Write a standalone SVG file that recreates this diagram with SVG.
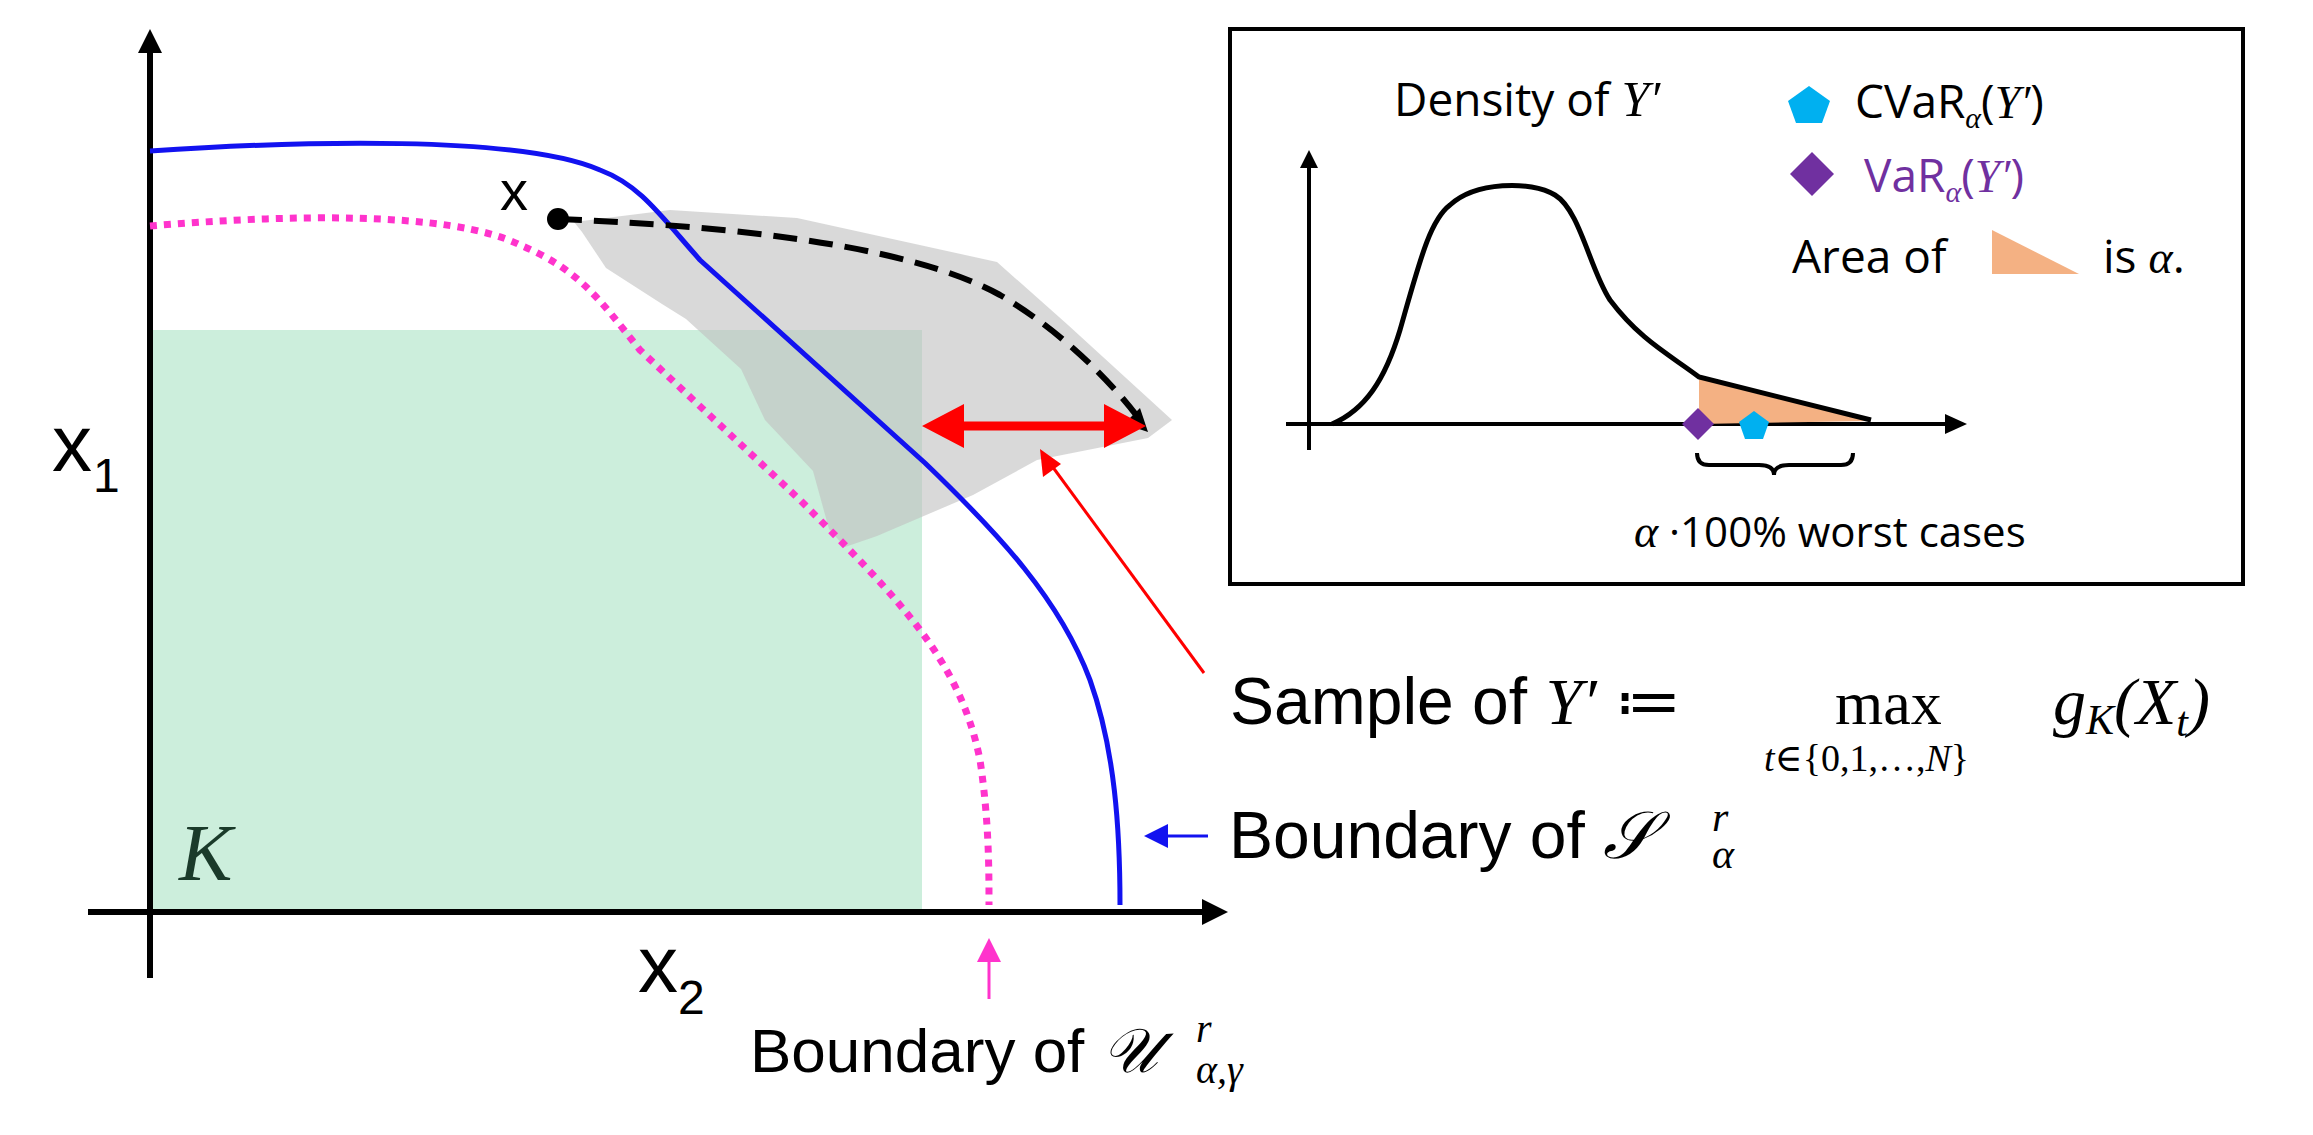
<svg xmlns="http://www.w3.org/2000/svg" width="2313" height="1135" viewBox="0 0 2313 1135">
<defs>
<style>
.t{font-family:"Liberation Sans",Arial,sans-serif;fill:#000}
.c{font-family:"Open Sans","Liberation Sans",sans-serif;fill:#000}
.m{font-family:"Liberation Serif","DejaVu Serif",serif;font-style:italic}
.mu{font-family:"Liberation Serif","DejaVu Serif",serif}
</style>
</defs>
<rect width="2313" height="1135" fill="#fff"/>
<g id="K"><rect x="150" y="330" width="772" height="582" fill="#cceedc"/>
<text x="179" y="880" class="m" font-size="80" fill="#1a3a2a">K</text></g>
<g id="blob"><path d="M574,222 L670,210 L797,218 L997,262 L1068,325 L1172,420 L1148,438 L1037,460 L973,495 L877,536 L845,547 L829,529 L813,471 L765,420 L741,369 L686,319 L662,304 L606,268 L582,232 Z" fill="#bfbfbf" fill-opacity="0.6"/></g>
<g id="connectors">
<path d="M150,978 V40" stroke="#000" stroke-width="6" fill="none"/>
<path d="M150,29 l-12,24 h24z" fill="#000"/>
<path d="M88,912 H1210" stroke="#000" stroke-width="6"/>
<path d="M1228,912 l-26,-13 v26z" fill="#000"/>
<path d="M150,151 C300,141 520,135 600,170 C640,185 660,215 700,260 L925,463 C1000,535 1060,600 1090,680 C1115,750 1120,830 1120,905" stroke="#1212f0" stroke-width="5" fill="none"/>
<path d="M150,226 C280,215 450,210 520,245 C580,270 600,300 640,350 L800,500 C900,600 960,660 980,760 C989,820 989,870 989,905" stroke="#ff33cc" stroke-width="7" stroke-dasharray="7,7" fill="none"/>
<path d="M558,219 C700,225 900,240 1000,295 C1060,330 1110,380 1140,420" stroke="#000" stroke-width="6" stroke-dasharray="24,12" fill="none"/>
<path d="M1148,432 l-24,-8 l16,-16z" fill="#000"/>
<circle cx="558" cy="219" r="11" fill="#000"/>
<path d="M960,426 H1110" stroke="#ff0000" stroke-width="9"/>
<path d="M922,426 l42,-22 v44z M1146,426 l-42,-22 v44z" fill="#ff0000"/>
<path d="M1204,673 L1052,466" stroke="#ff0000" stroke-width="3"/>
<path d="M1040,449 l3,28 l18,-13z" fill="#ff0000"/>
<path d="M989,999 V958" stroke="#ff33cc" stroke-width="3"/>
<path d="M989,938 l-12,24 h24z" fill="#ff33cc"/>
<path d="M1208,836 H1165" stroke="#1212f0" stroke-width="3"/>
<path d="M1144,836 l24,-12 v24z" fill="#1212f0"/>
</g>
<g id="labels">
<text x="500" y="210" class="t" font-size="56">x</text>
<text x="52" y="471" class="t" font-size="80">x</text><text x="93" y="492" class="t" font-size="48">1</text>
<text x="638" y="992" class="t" font-size="80">x</text><text x="678" y="1014" class="t" font-size="48">2</text>
<text x="750" y="1072" class="t" font-size="62">Boundary of <tspan class="m" font-size="62">𝒰</tspan></text>
<text x="1196" y="1042" class="m" font-size="40">r</text><text x="1196" y="1083" class="m" font-size="40">α,γ</text>
<text x="1229" y="858" class="t" font-size="66">Boundary of <tspan class="m">𝒮</tspan></text>
<text x="1712" y="831" class="m" font-size="42">r</text><text x="1712" y="868" class="m" font-size="42">α</text>
<text x="1230" y="724" class="t" font-size="66">Sample of <tspan class="m">Y′</tspan> ≔</text>
<text x="1835" y="724" class="mu" font-size="62">max</text>
<text x="1764" y="771" class="mu" font-size="38"><tspan class="m">t</tspan>∈{0,1,…,<tspan class="m">N</tspan>}</text>
<text x="2053" y="724" class="m" font-size="66">g<tspan font-size="42" dy="10">K</tspan><tspan dy="-10" class="mu">(</tspan>X<tspan font-size="42" dy="12">t</tspan><tspan dy="-12" class="mu">)</tspan></text>
</g>
<g id="inset">
<rect x="1230" y="29" width="1013" height="555" fill="none" stroke="#000" stroke-width="4"/>
<text x="1394" y="116" class="c" font-size="46">Density of <tspan class="m" font-size="50">Y′</tspan></text>
<path d="M1309,450 V165" stroke="#000" stroke-width="4"/>
<path d="M1309,150 l-9,18 h18z" fill="#000"/>
<path d="M1286,424 H1950" stroke="#000" stroke-width="4"/>
<path d="M1967,424 l-22,-10 v20z" fill="#000"/>
<path d="M1699,377 L1699,424 L1871,421 Z" fill="#f4b183"/>
<path d="M1332,424 C1365,410 1385,380 1400,330 C1420,260 1430,220 1450,205 C1475,182 1530,180 1555,195 C1580,210 1590,270 1610,300 C1640,340 1670,355 1699,377 L1871,420" stroke="#000" stroke-width="5" fill="none"/>
<path d="M1698,408 l16,16 l-16,16 l-16,-16z" fill="#7030a0"/>
<path d="M1754,411 l15,11 l-6,17 h-18 l-6,-17z" fill="#00b0f0"/>
<path d="M1697,453 q0,12 12,12 h50 q15,0 15,10 q0,-10 15,-10 h52 q12,0 12,-12" stroke="#000" stroke-width="4" fill="none"/>
<text x="1634" y="547" class="c" font-size="42"><tspan class="m" font-size="46">α</tspan> ·100% worst cases</text>
<path d="M1809,86 l21,15 l-8,22 h-26 l-8,-22z" fill="#00b0f0"/>
<text x="1855" y="118" class="c" font-size="46">CVaR<tspan font-size="30" dy="10" class="m">α</tspan><tspan dy="-10">(</tspan><tspan class="m">Y′</tspan>)</text>
<path d="M1812,152 l22,22 l-22,22 l-22,-22z" fill="#7030a0"/>
<text x="1864" y="192" class="c" font-size="46" style="fill:#7030a0">VaR<tspan font-size="30" dy="10" class="m">α</tspan><tspan dy="-10">(</tspan><tspan class="m">Y′</tspan>)</text>
<text x="1792" y="273" class="c" font-size="46">Area of</text>
<path d="M1992,230 V274 H2079 Z" fill="#f4b183"/>
<text x="2103" y="273" class="c" font-size="46">is <tspan class="m">α</tspan>.</text>
</g>
</svg>
